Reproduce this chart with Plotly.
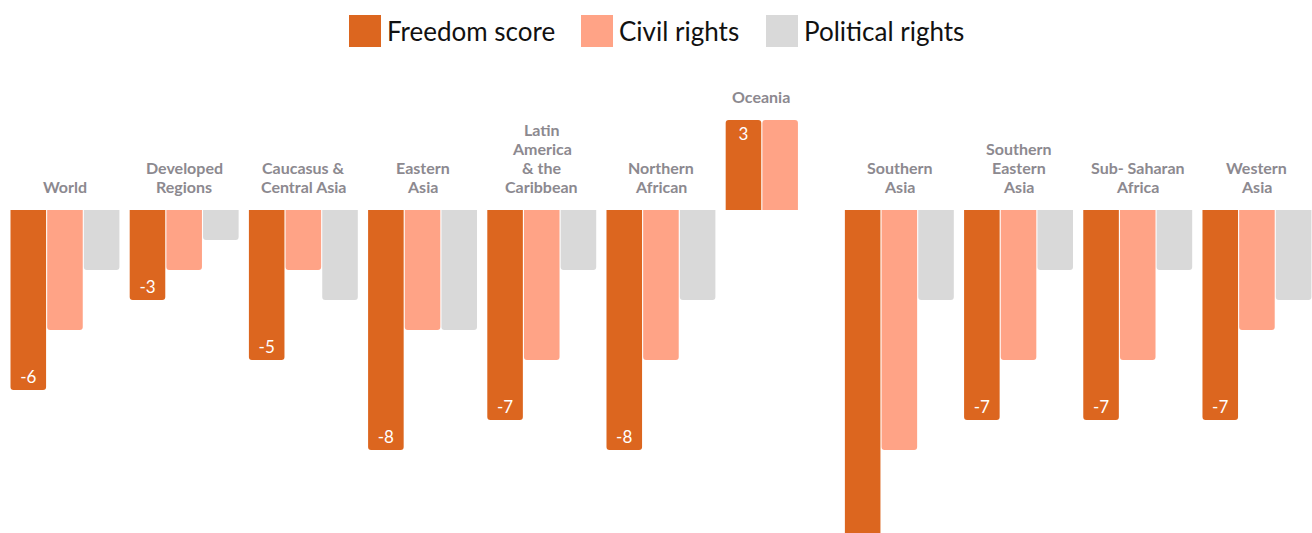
import plotly.graph_objects as go

# Regions and their score changes
regions = ["World", "Developed Regions", "Caucasus & Central Asia", "Eastern Asia",
           "Latin America & the Caribbean", "Northern African", "Oceania",
           "Southern Asia", "Southern Eastern Asia", "Sub- Saharan Africa", "Western Asia"]
region_labels = ["World", "Developed<br>Regions", "Caucasus &<br>Central Asia", "Eastern<br>Asia",
                 "Latin<br>America<br>& the<br>Caribbean", "Northern<br>African", "Oceania",
                 "Southern<br>Asia", "Southern<br>Eastern<br>Asia", "Sub- Saharan<br>Africa",
                 "Western<br>Asia"]
freedom_score = [-6, -3, -5, -8, -7, -8, 3, -12, -7, -7, -7]
civil_rights = [-4, -2, -2, -4, -5, -5, 3, -8, -5, -5, -4]
political_rights = [-2, -1, -3, -4, -2, -3, 0, -3, -2, -2, -3]

series_names = ["Freedom score", "Civil rights", "Political rights"]
colors = ["#DC661F", "#FFA386", "#D9D9D9"]

FONT = "Lato, 'Open Sans', sans-serif"
W, H = 1312, 533
M_TOP = 70
PLOT_H = H - M_TOP
Y_RANGE = [-10.767, 4.667]

fig = go.Figure()

# Value labels only on the freedom bars (the one running off the bottom shows none)
freedom_text = [str(v) if v > Y_RANGE[0] + 1 else "" for v in freedom_score]

fig.add_trace(go.Bar(x=regions, y=freedom_score, name=series_names[0],
                     marker_color=colors[0], text=freedom_text,
                     textposition="inside", insidetextanchor="end", textangle=0,
                     textfont=dict(family=FONT, size=17, color="white")))
fig.add_trace(go.Bar(x=regions, y=civil_rights, name=series_names[1],
                     marker_color=colors[1]))
fig.add_trace(go.Bar(x=regions, y=political_rights, name=series_names[2],
                     marker_color=colors[2]))

fig.update_traces(marker_line_width=0, showlegend=False)

# Region names sit above each group (one annotation per line for tighter leading)
for reg, lab, f, c, p in zip(regions, region_labels, freedom_score, civil_rights, political_rights):
    top = max(0, f, c, p)
    lines = lab.split("<br>")
    for i, line in enumerate(reversed(lines)):
        fig.add_annotation(x=reg, y=top, text=line, showarrow=False,
                           xanchor="center", yanchor="bottom", yshift=12 + 19 * i,
                           xshift=-19 if p == 0 and top > 0 else 0,
                           font=dict(family=FONT, size=16, color="#8C898F", weight="bold"))


def py(p):
    # pixel row -> paper y
    return (H - p) / PLOT_H


# Custom legend with large swatches
legend_x = [349, 581, 766]
for name, col, lx in zip(series_names, colors, legend_x):
    fig.add_shape(type="rect", xref="paper", yref="paper",
                  x0=lx / W, x1=(lx + 32) / W, y0=py(47), y1=py(15),
                  fillcolor=col, line_width=0)
    fig.add_annotation(xref="paper", yref="paper", x=(lx + 36) / W, y=py(31),
                       text=name, showarrow=False, xanchor="left", yanchor="middle",
                       font=dict(family=FONT, size=26, color="#111111"))

fig.update_layout(
    width=W, height=H,
    barmode="group", bargap=0.077, bargroupgap=0.03, barcornerradius=3,
    plot_bgcolor="#fff", paper_bgcolor="#fff",
    margin=dict(l=0, r=0, t=M_TOP, b=0),
    font=dict(family=FONT),
    xaxis=dict(range=[-0.545, 10.462], showgrid=False, zeroline=False,
               showticklabels=False, showline=False, fixedrange=True),
    yaxis=dict(range=Y_RANGE, showgrid=False, zeroline=False,
               showticklabels=False, showline=False, fixedrange=True),
    showlegend=False,
)

fig.write_html("out.html", config={"displayModeBar": False},
               post_script="document.body.style.margin='0';")
